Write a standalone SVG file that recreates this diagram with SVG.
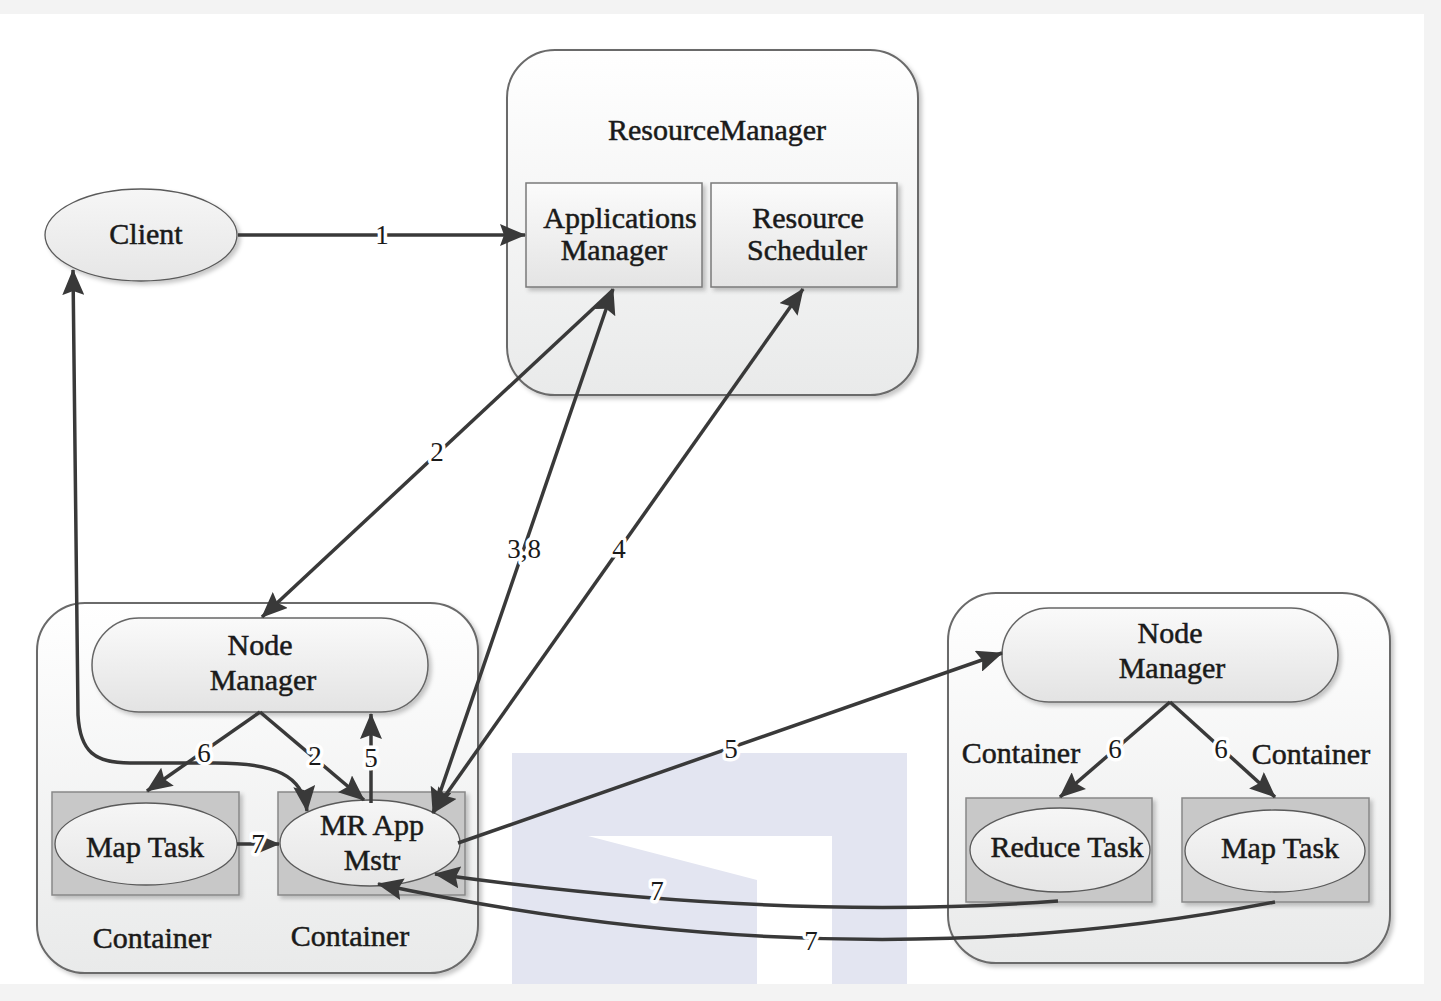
<svg xmlns="http://www.w3.org/2000/svg" width="1441" height="1001" viewBox="0 0 1441 1001">
<style>
.t{font-family:"Liberation Serif","Times New Roman",serif;font-size:30px;fill:#1a1a1a;stroke:#1a1a1a;stroke-width:0.5px;text-anchor:middle}
.n{font-family:"Liberation Serif","Times New Roman",serif;font-size:27px;fill:#1a1a1a;text-anchor:middle;stroke:#fff;stroke-width:7px;paint-order:stroke;stroke-linejoin:round}
.grp{fill:url(#gGroup);stroke:#6a6a6a;stroke-width:2;filter:url(#sh)}
.box{fill:url(#gBox);stroke:#7a7a7a;stroke-width:1.5;filter:url(#sh)}
.pill{fill:url(#gPill);stroke:#666;stroke-width:1.5;filter:url(#sh)}
.cont{fill:#c8c8c8;stroke:#888;stroke-width:1.5;filter:url(#sh)}
.ell{fill:url(#gEll);stroke:#5a5a5a;stroke-width:1.3}
.c{fill:none;stroke:#393939;stroke-width:3.5}
</style>
<defs>
<linearGradient id="gGroup" x1="0" y1="0" x2="0" y2="1"><stop offset="0" stop-color="#ffffff"/><stop offset="1" stop-color="#e9eaea"/></linearGradient>
<linearGradient id="gBox" x1="0" y1="0" x2="0" y2="1"><stop offset="0" stop-color="#fbfbfb"/><stop offset="1" stop-color="#e4e4e4"/></linearGradient>
<linearGradient id="gPill" x1="0" y1="0" x2="0" y2="1"><stop offset="0" stop-color="#fafafa"/><stop offset="1" stop-color="#e3e3e3"/></linearGradient>
<linearGradient id="gEll" x1="0" y1="0" x2="0" y2="1"><stop offset="0" stop-color="#f6f6f6"/><stop offset="1" stop-color="#e6e6e6"/></linearGradient>
<filter id="sh" x="-10%" y="-10%" width="120%" height="125%"><feDropShadow dx="3" dy="3" stdDeviation="2" flood-color="#000" flood-opacity="0.22"/></filter>
<marker id="ah" viewBox="0 0 26 22" markerWidth="26" markerHeight="22" refX="25" refY="11" orient="auto-start-reverse" markerUnits="userSpaceOnUse"><path d="M0,0 L26,11 L0,22 L4,11 z" fill="#393939"/></marker>
</defs>
<rect width="1441" height="1001" fill="#f3f3f3"/>
<rect x="0" y="14" width="1424" height="970" fill="#ffffff"/>
<path d="M512,753 H907 V984 H512 Z M588,836 L757,880 V984 H832 V836 Z" fill="#e3e5f1" fill-rule="evenodd"/>

<g id="client"><ellipse cx="141" cy="235" rx="96" ry="46" class="ell" filter="url(#sh)"/><text class="t" x="146" y="244">Client</text></g>

<g id="resourcemanager">
<rect class="grp" x="507" y="50" width="411" height="345" rx="48"/>
<text class="t" x="717" y="140">ResourceManager</text>
<g id="applications-manager"><rect class="box" x="526" y="183" width="176" height="104"/><text class="t" x="620" y="228">Applications</text><text class="t" x="614" y="260">Manager</text></g>
<g id="resource-scheduler"><rect class="box" x="711" y="183" width="186" height="104"/><text class="t" x="808" y="228">Resource</text><text class="t" x="807" y="260">Scheduler</text></g>
</g>

<g id="node-left">
<rect class="grp" x="37" y="603" width="441" height="370" rx="48"/>
<g id="nodemanager-left"><rect class="pill" x="92" y="618" width="336" height="94" rx="47"/><text class="t" x="260" y="655">Node</text><text class="t" x="263" y="690">Manager</text></g>
<g id="maptask-left"><rect class="cont" x="52" y="792" width="187" height="103"/><ellipse class="ell" cx="146" cy="844" rx="91" ry="41"/><text class="t" x="145" y="857">Map Task</text></g>
<g id="mrappmstr"><rect class="cont" x="278" y="792" width="187" height="103"/><ellipse class="ell" cx="370" cy="843" rx="90" ry="43"/><text class="t" x="372" y="835">MR App</text><text class="t" x="372" y="870">Mstr</text></g>
<text class="t" x="152" y="948">Container</text>
<text class="t" x="350" y="946">Container</text>
</g>

<g id="node-right">
<rect class="grp" x="948" y="593" width="442" height="370" rx="48"/>
<g id="nodemanager-right"><rect class="pill" x="1002" y="608" width="336" height="94" rx="47"/><text class="t" x="1170" y="643">Node</text><text class="t" x="1172" y="678">Manager</text></g>
<g id="reducetask"><rect class="cont" x="966" y="798" width="186" height="104"/><ellipse class="ell" cx="1060" cy="850" rx="90" ry="42"/><text class="t" x="1067" y="857">Reduce Task</text></g>
<g id="maptask-right"><rect class="cont" x="1182" y="798" width="187" height="104"/><ellipse class="ell" cx="1275" cy="851" rx="90" ry="41"/><text class="t" x="1280" y="858">Map Task</text></g>
<text class="t" x="1021" y="763">Container</text>
<text class="t" x="1311" y="764">Container</text>
</g>

<g id="connectors">
<path class="c" d="M238,235 L525,235" marker-end="url(#ah)"/>
<path class="c" d="M613,290 L262,617" marker-end="url(#ah)"/>
<path class="c" d="M433,813 L613,289" marker-start="url(#ah)" marker-end="url(#ah)"/>
<path class="c" d="M433,813 L803,289" marker-start="url(#ah)" marker-end="url(#ah)"/>
<path class="c" d="M458,843 L1002,653" marker-end="url(#ah)"/>
<path class="c" d="M73,270 L78,715 C80,752 95,763 130,763 L215,763 C275,763 303,775 307,811" marker-start="url(#ah)" marker-end="url(#ah)"/>
<path class="c" d="M260,712 L147,791" marker-end="url(#ah)"/>
<path class="c" d="M260,712 L364,800" marker-end="url(#ah)"/>
<path class="c" d="M371,803 L371,714" marker-end="url(#ah)"/>
<path class="c" d="M237,844 L279,844" marker-end="url(#ah)"/>
<path class="c" d="M1170,702 L1060,797" marker-end="url(#ah)"/>
<path class="c" d="M1170,702 L1275,797" marker-end="url(#ah)"/>
<path class="c" d="M1058,901 Q780,922 435,874" marker-end="url(#ah)"/>
<path class="c" d="M1275,902 Q850,985 378,884" marker-end="url(#ah)"/>
<text class="n" x="382" y="244">1</text>
<text class="n" x="437" y="461">2</text>
<text class="n" x="524" y="558">3,8</text>
<text class="n" x="619" y="558">4</text>
<text class="n" x="731" y="758">5</text>
<text class="n" x="204" y="762">6</text>
<text class="n" x="315" y="765">2</text>
<text class="n" x="371" y="767">5</text>
<text class="n" x="258" y="853">7</text>
<text class="n" x="657" y="900">7</text>
<text class="n" x="811" y="950">7</text>
<text class="n" x="1115" y="758">6</text>
<text class="n" x="1221" y="758">6</text>
</g>
</svg>
